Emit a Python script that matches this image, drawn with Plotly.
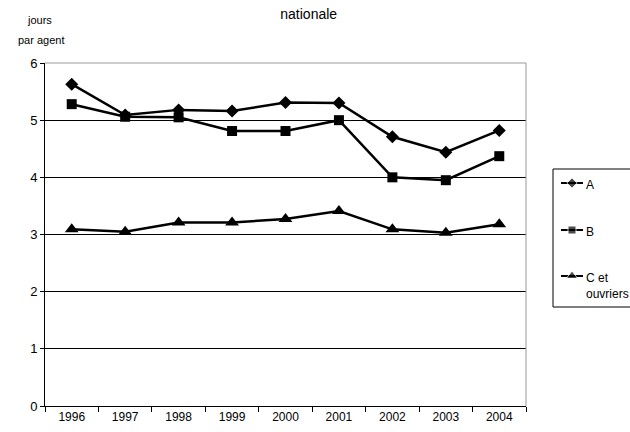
import plotly.graph_objects as go

years = ["1996", "1997", "1998", "1999", "2000", "2001", "2002", "2003", "2004"]
serie_a = [5.63, 5.09, 5.18, 5.16, 5.31, 5.30, 4.71, 4.44, 4.82]
serie_b = [5.28, 5.06, 5.05, 4.81, 4.81, 5.00, 4.00, 3.95, 4.37]
serie_c = [3.09, 3.05, 3.21, 3.21, 3.27, 3.41, 3.09, 3.03, 3.18]
names = ["A", "B", "C et<br>ouvriers"]
symbols = ["diamond", "square", "triangle-up"]
sizes = [10, 10, 12]
legend_sizes = [8, 8, 10]

FONT = "Liberation Sans, Arial, sans-serif"

# page geometry (px)
W, H = 630, 432
L, R, T, B = 45, 0, 63, 26
PW, PH = W - L - R, H - T - B
plot_right = 526
leg_left, leg_top, leg_bottom = 553, 169, 307
leg_rows = [183, 230, 276]


def px_x(p):
    return (p - L) / PW


def px_y(p):
    return (H - B - p) / PH


fig = go.Figure()
for i, (vals, nm) in enumerate(zip([serie_a, serie_b, serie_c], names)):
    fig.add_trace(go.Scatter(
        x=years, y=vals, name=nm, mode="lines+markers",
        line=dict(color="black", width=2.5),
        marker=dict(symbol=symbols[i], size=sizes[i], color="black"),
        xaxis="x", yaxis="y", showlegend=False,
    ))
    # legend sample (drawn in a small hidden axis over the legend box)
    r = leg_rows[i]
    fig.add_trace(go.Scatter(
        x=[leg_left + 8, leg_left + 19, leg_left + 30], y=[r, r, r],
        mode="lines+markers", line=dict(color="black", width=2),
        marker=dict(symbol=symbols[i], size=[0, legend_sizes[i], 0], color="black"),
        xaxis="x2", yaxis="y2", showlegend=False, hoverinfo="skip", cliponaxis=False,
    ))

annotations = [
    dict(text="jours", xref="x domain", yref="paper", x=0, xshift=-6, y=px_y(20),
         xanchor="center", yanchor="middle", showarrow=False,
         font=dict(family=FONT, size=11, color="black")),
    dict(text="par agent", xref="x domain", yref="paper", x=0, xshift=-4, y=px_y(40),
         xanchor="center", yanchor="middle", showarrow=False,
         font=dict(family=FONT, size=11, color="black")),
]
for i, nm in enumerate(names):
    annotations.append(dict(
        text=nm, xref="x2", yref="y2", x=leg_left + 31, y=leg_rows[i] - 7,
        xanchor="left", yanchor="top", align="left", showarrow=False,
        font=dict(family=FONT, size=12, color="black"),
    ))

fig.update_layout(
    width=W, height=H,
    paper_bgcolor="white", plot_bgcolor="white",
    margin=dict(l=L, r=R, t=T, b=B, autoexpand=False),
    font=dict(family=FONT, size=12, color="black"),
    title=dict(text="nationale", x=0.49, xanchor="center", y=0.967, yanchor="middle",
               font=dict(family=FONT, size=14, color="black")),
    showlegend=False,
    xaxis=dict(type="category", range=[-0.5, 8.5], domain=[0, px_x(plot_right)],
               showgrid=False, showline=True, linecolor="black", linewidth=1,
               ticks="outside", tickson="boundaries", ticklen=5, tickcolor="black",
               tickfont=dict(family=FONT, size=12), anchor="y"),
    yaxis=dict(range=[0, 6], dtick=1, showgrid=True, gridcolor="black", gridwidth=1,
               showline=True, linecolor="black", linewidth=1,
               ticks="outside", ticklen=4, tickcolor="black", anchor="x",
               zeroline=False, tickfont=dict(family=FONT, size=13)),
    xaxis2=dict(domain=[px_x(leg_left), 1], range=[leg_left, W], visible=False,
                anchor="y2", fixedrange=True),
    yaxis2=dict(domain=[px_y(leg_bottom), px_y(leg_top)], range=[leg_bottom, leg_top],
                visible=False, anchor="x2", fixedrange=True),
    annotations=annotations,
    shapes=[
        dict(type="line", xref="x domain", yref="y domain", x0=0, x1=1, y0=1, y1=1,
             line=dict(color="#999999", width=1)),
        dict(type="line", xref="x domain", yref="y domain", x0=1, x1=1, y0=0, y1=1,
             line=dict(color="#999999", width=1)),
        dict(type="rect", xref="paper", yref="paper",
             x0=px_x(leg_left), x1=px_x(W + 5), y0=px_y(leg_bottom), y1=px_y(leg_top),
             line=dict(color="black", width=1), fillcolor="rgba(0,0,0,0)", layer="below"),
    ],
)

fig.write_html("out.html",
               config={"displayModeBar": False},
               post_script="document.body.style.margin='0';document.body.style.overflow='hidden';")
